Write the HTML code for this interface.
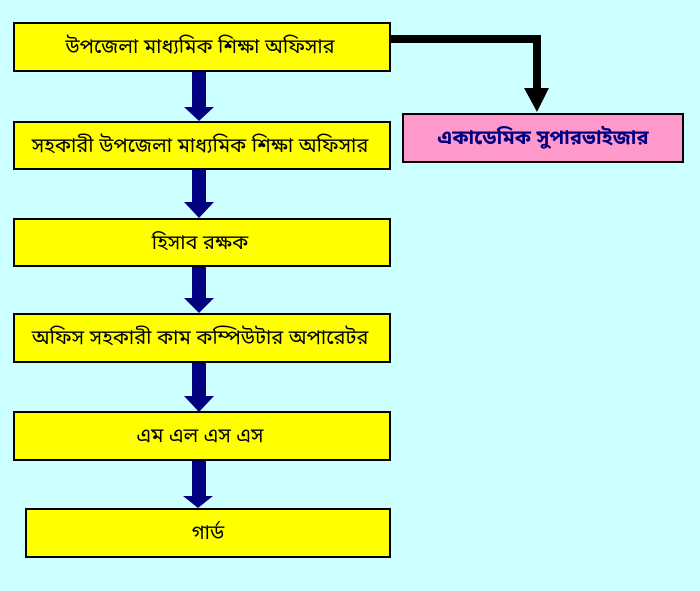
<!DOCTYPE html>
<html><head><meta charset="utf-8"><style>
html,body{margin:0;padding:0;background:#ccffff;}
svg{display:block}
text{font-family:"Liberation Sans","Noto Sans Bengali","Lohit Bengali",sans-serif;font-size:20px;}
</style></head><body>
<svg width="700" height="591" xmlns="http://www.w3.org/2000/svg">
<rect width="700" height="591" fill="#ccffff"/>
<g fill="#000080">
<rect x="192" y="71" width="14" height="36"/><polygon points="184,107 214,107 199,121"/>
<rect x="192" y="169" width="14" height="34"/><polygon points="184,202 214,202 199,218"/>
<rect x="192" y="267" width="14" height="32"/><polygon points="184,298 214,298 199,313"/>
<rect x="192" y="362" width="14" height="34"/><polygon points="184,396 214,396 199,412"/>
<rect x="192" y="461" width="14" height="35"/><polygon points="183,496 213,496 198,508"/>
</g>
<g fill="#000">
<rect x="387" y="35" width="154" height="8"/>
<rect x="533" y="35" width="8" height="54"/>
<polygon points="524,88 549,88 537,112"/>
</g>
<g stroke="#000" stroke-width="2" fill="#ffff00">
<rect x="14" y="23" width="376" height="48"/>
<rect x="14" y="122" width="376" height="47"/>
<rect x="14" y="219" width="376" height="47"/>
<rect x="14" y="314" width="376" height="48"/>
<rect x="14" y="412" width="376" height="48"/>
<rect x="26" y="509" width="364" height="48"/>
<rect x="403" y="114" width="280" height="48" fill="#ff99cc"/>
</g>
<g text-anchor="middle" fill="#000">
<text x="200" y="53">উপজেলা মাধ্যমিক শিক্ষা অফিসার</text>
<text x="200" y="152">সহকারী উপজেলা মাধ্যমিক শিক্ষা অফিসার</text>
<text x="200" y="249">হিসাব রক্ষক</text>
<text x="200" y="344">অফিস সহকারী কাম কম্পিউটার অপারেটর</text>
<text x="200" y="442">এম এল এস এস</text>
<text x="208" y="539">গার্ড</text>
<text x="543" y="144" fill="#000080" font-weight="bold">একাডেমিক সুপারভাইজার</text>
</g>
</svg>
</body></html>
